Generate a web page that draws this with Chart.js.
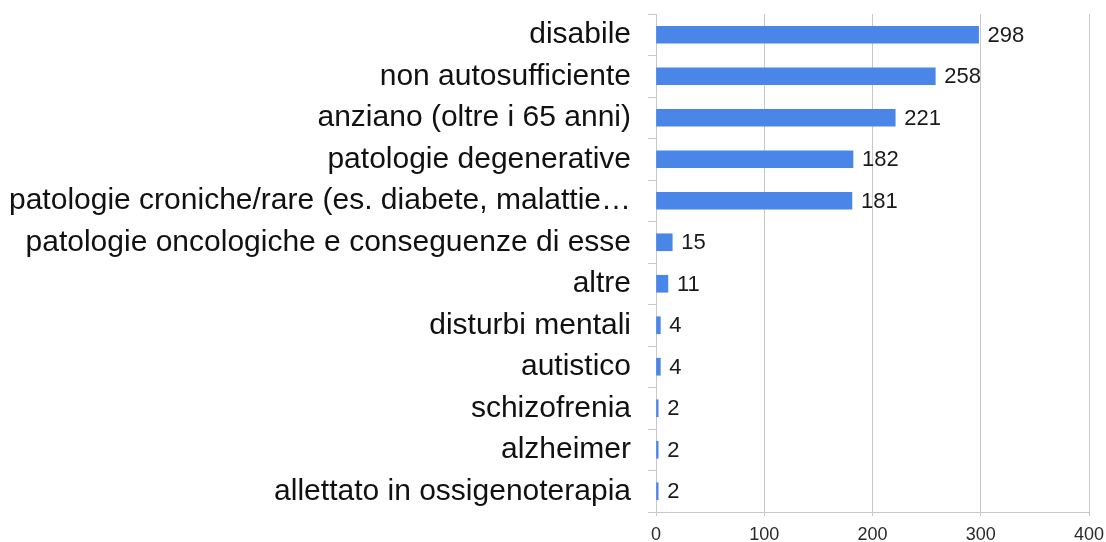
<!DOCTYPE html>
<html>
<head>
<meta charset="utf-8">
<script src="https://cdn.jsdelivr.net/npm/chart.js@4"></script>
<style>
  html, body { margin: 0; padding: 0; background: #fff; }
  #wrap { width: 1106px; height: 542px; }
</style>
</head>
<body>
<div id="wrap"><canvas id="barChart"></canvas></div>
<script>
const categories = [
  "disabile",
  "non autosufficiente",
  "anziano (oltre i 65 anni)",
  "patologie degenerative",
  "patologie croniche/rare (es. diabete, malattie\u2026",
  "patologie oncologiche e conseguenze di esse",
  "altre",
  "disturbi mentali",
  "autistico",
  "schizofrenia",
  "alzheimer",
  "allettato in ossigenoterapia",
];
const counts = [298, 258, 221, 182, 181, 15, 11, 4, 4, 2, 2, 2];
const xTicks = [0, 100, 200, 300, 400];

const FONT = "'Liberation Sans', Arial, sans-serif";

// writes the count just past the end of each bar
const valueLabels = {
  id: "valueLabels",
  afterDatasetsDraw(chart) {
    const ctx = chart.ctx;
    const meta = chart.getDatasetMeta(0);
    ctx.save();
    ctx.font = "22px " + FONT;
    ctx.fillStyle = "#1a1a1a";
    ctx.textAlign = "left";
    ctx.textBaseline = "middle";
    meta.data.forEach((bar, i) => {
      ctx.fillText(String(counts[i]), bar.x + 9, bar.y + 1);
    });
    ctx.restore();
  },
};

const ctx = document.getElementById("barChart").getContext("2d");
new Chart(ctx, {
  type: "bar",
  data: {
    labels: categories,
    datasets: [
      {
        data: counts,
        backgroundColor: "#4a86e8",
        borderWidth: 0,
        barThickness: 17,
      },
    ],
  },
  options: {
    indexAxis: "y",
    responsive: true,
    maintainAspectRatio: false,
    animation: false,
    layout: { padding: { left: 0, right: 17, top: 14, bottom: 0 } },
    plugins: {
      legend: { display: false },
      tooltip: { enabled: false },
    },
    scales: {
      x: {
        min: 0,
        max: 400,
        afterBuildTicks(scale) {
          scale.ticks = xTicks.map((v) => ({ value: v }));
        },
        afterFit(scale) {
          scale.height = 30;
          scale.paddingLeft = 0;
          scale.paddingRight = 0;
        },
        grid: { color: "#c8c8c8", lineWidth: 1, tickLength: 4 },
        border: { color: "#c8c8c8" },
        ticks: {
          color: "#2a2a2a",
          font: { family: FONT, size: 18, lineHeight: 1 },
          padding: 10,
        },
      },
      y: {
        afterFit(scale) {
          scale.width = 656;
          scale.paddingTop = 0;
          scale.paddingBottom = 0;
        },
        grid: {
          drawOnChartArea: false,
          color: "#c8c8c8",
          tickLength: 8,
        },
        border: { color: "#c8c8c8" },
        ticks: {
          color: "#111",
          font: { family: FONT, size: 30 },
          padding: 17,
        },
      },
    },
  },
  plugins: [valueLabels],
});
</script>
</body>
</html>
